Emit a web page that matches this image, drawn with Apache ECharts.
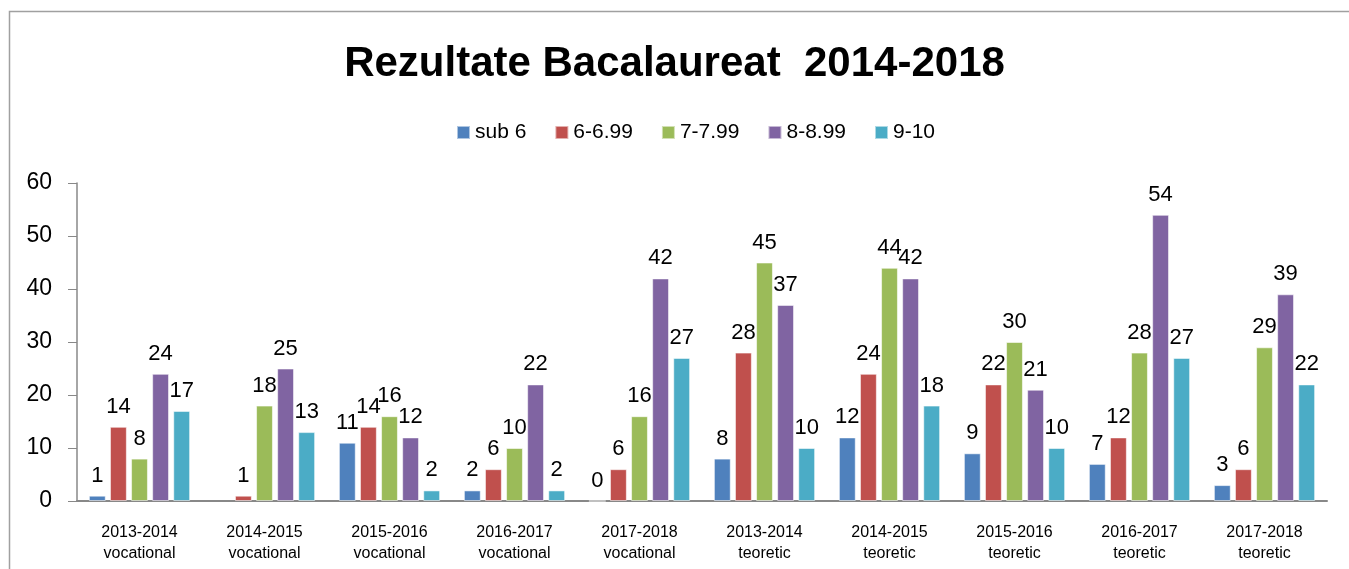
<!DOCTYPE html>
<html>
<head>
<meta charset="utf-8">
<script src="https://cdn.jsdelivr.net/npm/echarts@6/dist/echarts.min.js"></script>
<style>
  html, body { margin: 0; padding: 0; background: #fff; }
  #chart { width: 1349px; height: 569px; }
</style>
</head>
<body>
<div id="chart"></div>
<script>
// categorii (an scolar + tip liceu)
var categories = [
  '2013-2014\nvocational', '2014-2015\nvocational', '2015-2016\nvocational',
  '2016-2017\nvocational', '2017-2018\nvocational', '2013-2014\nteoretic',
  '2014-2015\nteoretic', '2015-2016\nteoretic', '2016-2017\nteoretic', '2017-2018\nteoretic'
]
var seriesNames = ['sub 6', '6-6.99', '7-7.99', '8-8.99', '9-10']
var sub6 = [1, null, 11, 2, 0, 8, 12, 9, 7, 3]
var n6 = [14, 1, 14, 6, 6, 28, 24, 22, 12, 6]
var n7 = [8, 18, 16, 10, 16, 45, 44, 30, 28, 29]
var n8 = [24, 25, 12, 22, 42, 37, 42, 21, 54, 39]
var n9 = [17, 13, 2, 2, 27, 10, 18, 10, 27, 22]
var colors = ['#4F81BD', '#C0504D', '#9BBB59', '#8064A2', '#4BACC6']

var font = 'Liberation Sans, Arial, sans-serif'
var values = [sub6, n6, n7, n8, n9]

var chart = echarts.init(document.getElementById('chart'))
chart.setOption({
  animation: false,
  color: colors,
  graphic: [{
    type: 'rect',
    left: 7,
    top: 9,
    shape: { width: 1400, height: 600 },
    style: { fill: 'none', stroke: '#a0a0a0', lineWidth: 1.5 },
    silent: true
  }],
  title: {
    text: 'Rezultate Bacalaureat  2014-2018',
    left: 'center',
    top: 38,
    textStyle: { fontFamily: font, fontSize: 42, fontWeight: 'bold', color: '#000' }
  },
  legend: {
    top: 117,
    left: 451,
    itemWidth: 13,
    itemHeight: 13,
    itemGap: 28,
    icon: 'rect',
    textStyle: { fontFamily: font, fontSize: 21, color: '#000' },
    data: seriesNames
  },
  grid: { left: 77, right: 22, top: 183, bottom: 68, containLabel: false },
  xAxis: {
    type: 'category',
    data: categories,
    axisLine: { lineStyle: { color: '#888', width: 2 } },
    axisTick: { show: false },
    axisLabel: { fontFamily: font, fontSize: 16, color: '#000', lineHeight: 21, margin: 21 }
  },
  yAxis: {
    type: 'value',
    min: 0,
    max: 60,
    interval: 10,
    splitLine: { show: false },
    axisLine: { show: true, lineStyle: { color: '#888', width: 1.5 } },
    axisTick: { show: true, inside: false, length: 9, lineStyle: { color: '#888' } },
    axisLabel: { fontFamily: font, fontSize: 23, color: '#000', margin: 25 }
  },
  series: seriesNames.map(function (name, i) {
    return {
      name: name,
      type: 'bar',
      data: values[i],
      barGap: '25%',
      barCategoryGap: '19%',
      itemStyle: { borderColor: 'rgba(255,255,255,0.55)', borderWidth: 1 },
      label: {
        show: true,
        position: 'top',
        distance: 9,
        fontFamily: font,
        fontSize: 22,
        color: '#000'
      }
    }
  })
})
</script>
</body>
</html>
